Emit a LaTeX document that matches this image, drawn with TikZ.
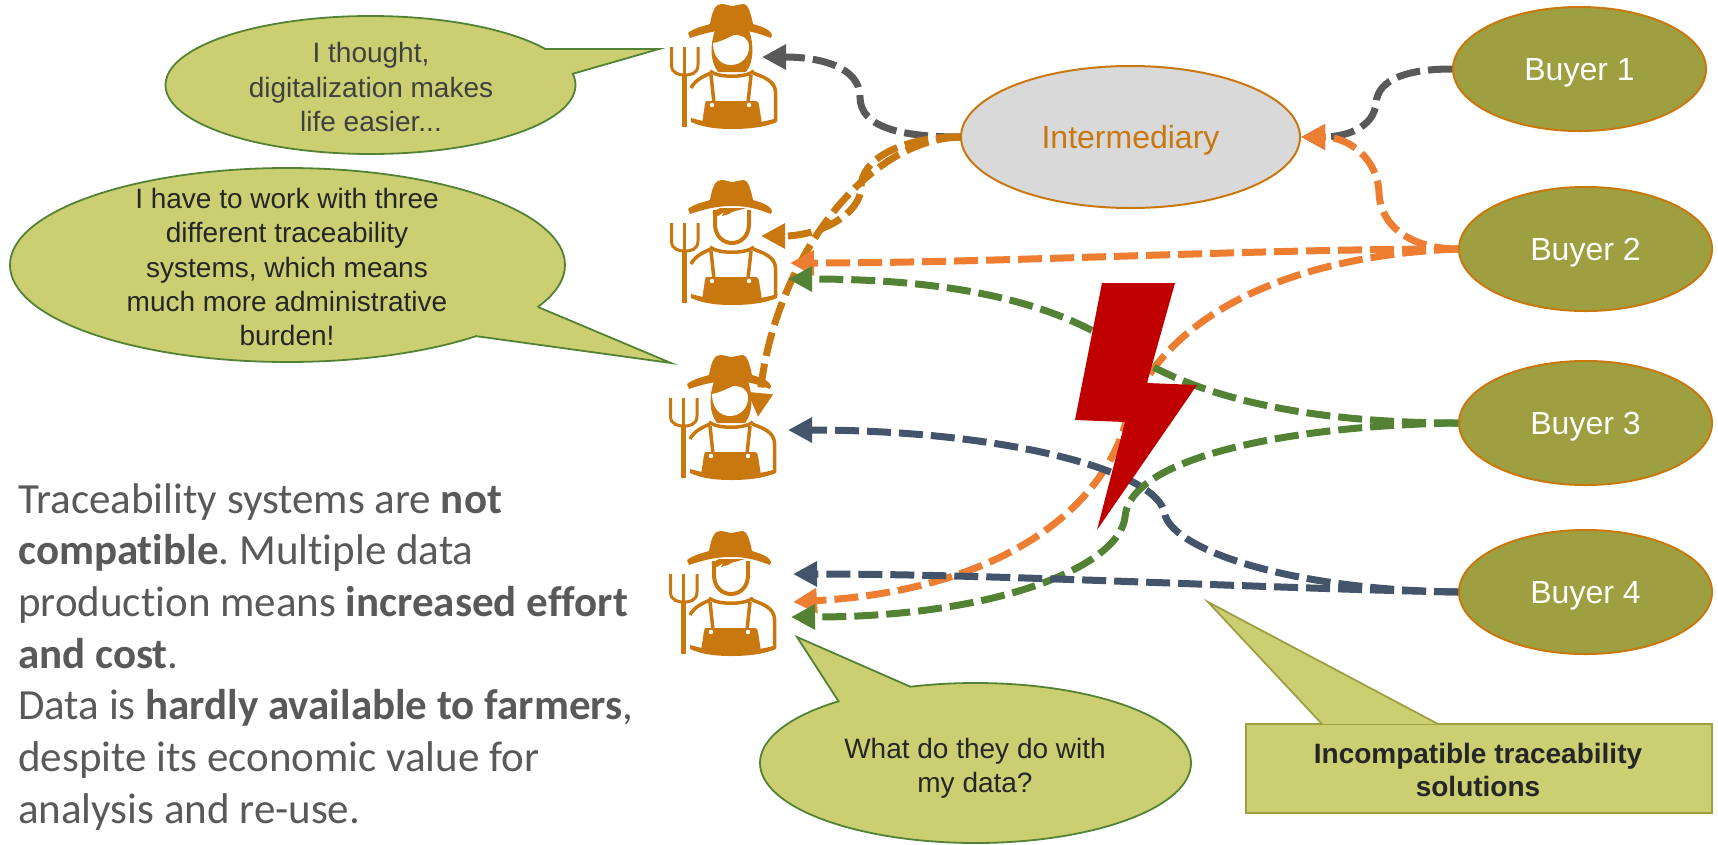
\documentclass[tikz,border=0pt]{standalone}
\usepackage{fontspec}
\setmainfont{Liberation Sans}
\newfontfamily\leftfont[Ligatures=NoCommon]{Carlito}
\usetikzlibrary{arrows.meta,shapes.geometric}
\definecolor{brownc}{HTML}{C8780F}
\definecolor{bubblefill}{HTML}{CBCF72}
\definecolor{bubbleline}{HTML}{548235}
\definecolor{buyerfill}{HTML}{9E9F40}
\definecolor{orangec}{HTML}{ED7D31}
\definecolor{greenc}{HTML}{548235}
\definecolor{navyc}{HTML}{44546A}
\definecolor{greyc}{HTML}{595959}
\definecolor{boltc}{HTML}{C00000}
\definecolor{bodytext}{HTML}{595959}
\definecolor{bubtext}{HTML}{404040}
\newcommand{\farmerbody}{%
  \fill[brownc] (28,33) .. controls (34,28) and (44,26) .. (50,24) .. controls (52,12) and (55,4) .. (61,4) .. controls (66,4) and (70,6) .. (72,6) .. controls (75,6) and (80,4) .. (84,4) .. controls (88,4) and (91,14) .. (93,24) .. controls (100,26) and (110,29) .. (112,35) -- (111,38) .. controls (100,34) and (90,30) .. (72,30) .. controls (55,30) and (42,34) .. (30,38) -- cycle;
  \draw[brownc,line width=3.5pt,line cap=butt] (50,71) .. controls (58,78) and (86,78) .. (94,71);
  \draw[brownc,line width=3.5pt] (31,88) .. controls (35,80) and (44,76) .. (51,73);
  \draw[brownc,line width=3.5pt] (93,73) .. controls (104,77) and (115,81) .. (115.5,92) -- (115.5,120);
  \draw[brownc,line width=3.5pt] (51,75) -- (54,103);
  \draw[brownc,line width=3.5pt] (91,75) -- (88,103);
  \fill[brownc] (46,101) -- (96,101) .. controls (98,101) and (99,103) .. (99,105) -- (102,124) -- (42,124) -- (45,104) -- cycle;
  \fill[white] (52,105) circle (2.2);
  \fill[white] (89,105) circle (2.2);
  \fill[brownc] (31,118) .. controls (45,122) and (60,124) .. (72,124) .. controls (90,124) and (105,122) .. (117,118) -- (117,122) .. controls (105,127) and (90,129) .. (72,129) .. controls (55,129) and (42,127) .. (31,122) -- cycle;
  \fill[brownc] (22,75) rectangle (27,127);
  \draw[brownc,line width=3pt] (11.5,47) -- (11.5,65) .. controls (11.5,74) and (20,75) .. (25,75) .. controls (30,75) and (38,74) .. (38,65) -- (38,47);
  \draw[brownc,line width=3pt] (24.5,47) -- (24.5,75);
}
\tikzset{
  farmerF/.pic={
    \fill[brownc] (55,30) .. controls (50,45) and (50,62) .. (58,72) -- (86,72) .. controls (94,62) and (94,45) .. (89,30) -- cycle;
    \fill[white] (53,43) .. controls (60,42) and (68,38) .. (74,35) .. controls (82,35) and (89,38) .. (89,47) .. controls (89,57) and (81,65) .. (71,65) .. controls (61,65) and (53,57) .. (53,43) -- cycle;
    \farmerbody
  },
  farmerM/.pic={
    \draw[brownc,line width=4pt] (55,34) -- (55,48) .. controls (55,60) and (63,67) .. (72,67) .. controls (81,67) and (89,60) .. (89,48) -- (89,34);
    \fill[brownc] (52,36) -- (60,32) -- (86,32) -- (72,36) .. controls (70,38) and (66,39) .. (62,40) -- (64,36) -- (58,40) -- cycle;
    \farmerbody
  },
  bubble/.style={ellipse,draw=bubbleline,fill=bubblefill,line width=1.8pt,inner sep=0pt},
  buyer/.style={ellipse,draw=brownc,fill=buyerfill,line width=2pt,inner sep=0pt,minimum width=253pt,minimum height=124pt,text=white,text height=23pt,text depth=0pt,font=\fontsize{32}{38}\selectfont},
  btext/.style={align=center,text=bubtext,font=\fontsize{28}{34.3}\selectfont,inner sep=0pt},
  conn/.style={dashed,dash pattern=on 24pt off 8pt,line width=7pt,-{Triangle[length=24pt,width=24pt]}},
}
\begin{document}
\begin{tikzpicture}[x=1pt,y=-1pt]
\useasboundingbox (0,0) rectangle (1718,844);
% farmers
\pic at (660,0) {farmerF};
\pic at (660,176) {farmerM};
\pic at (659,351) {farmerF};
\pic at (659,527) {farmerM};
\coordinate (t1) at (762,57);
\coordinate (t2a) at (761,236);
\coordinate (t2b) at (790,263);
\coordinate (t2c) at (788,279);
\coordinate (t3a) at (758,417);
\coordinate (t3b) at (788,430);
\coordinate (t4a) at (793,574);
\coordinate (t4b) at (793,602);
\coordinate (t4c) at (791,617);
% ellipses
\node[ellipse,draw=brownc,fill=black!15,line width=2pt,inner sep=0pt,minimum width=339pt,minimum height=142pt,text=brownc,text height=23pt,text depth=0pt,font=\fontsize{32}{38}\selectfont] (im) at (1130.5,137) {Intermediary};
\node[buyer] (b1) at (1579.5,69) {Buyer 1};
\node[buyer] (b2) at (1585.5,249) {Buyer 2};
\node[buyer] (b3) at (1585.5,423) {Buyer 3};
\node[buyer] (b4) at (1585.5,592) {Buyer 4};
% connectors
\draw[conn,draw=greyc] (im.west) .. controls (900,137) and (860,127) .. (860,97) .. controls (860,67) and (820,57) .. (t1);
\draw[conn,draw=brownc] (im.west) .. controls (900,137) and (861,160) .. (861,187) .. controls (861,214) and (820,236) .. (t2a);
\draw[conn,draw=brownc] (im.west) .. controls (860,140) and (772,270) .. (t3a);
\draw[conn,draw=greyc] (b1.west) .. controls (1410,69) and (1378,78) .. (1376,103) .. controls (1374,128) and (1345,137) .. (im.east);
\draw[conn,draw=orangec] (b2.west) .. controls (1410,249) and (1380,225) .. (1379,193) .. controls (1378,160) and (1350,137) .. (im.east);
\draw[conn,draw=orangec] (b2.west) .. controls (1250,249) and (1000,263) .. (t2b);
\draw[conn,draw=orangec] (b2.west) .. controls (1300,255) and (1160,310) .. (1125,425) .. controls (1100,510) and (1000,590) .. (t4b);
\draw[conn,draw=greenc] (b3.west) .. controls (1300,423) and (1190,395) .. (1125,350) .. controls (1080,320) and (1000,279) .. (t2c);
\draw[conn,draw=greenc] (b3.west) .. controls (1300,425) and (1130,455) .. (1125,517) .. controls (1120,565) and (1000,617) .. (t4c);
\draw[conn,draw=navyc] (b4.west) .. controls (1290,590) and (1175,550) .. (1165,515) .. controls (1160,470) and (1000,430) .. (t3b);
\draw[conn,draw=navyc] (b4.west) .. controls (1250,588) and (1000,574) .. (t4a);
% bolt
\fill[boltc] (1102,283) -- (1175,283) -- (1147,383) -- (1197,385) -- (1097,530) -- (1125,422) -- (1075,420) -- cycle;
% bubble 1
\node[bubble,minimum width=410pt,minimum height=138pt] (s1) at (370.5,85) {};
\coordinate (s1tip) at (659,49);
\coordinate (s1a) at (544,49);
\coordinate (s1b) at (572,74);
\fill[bubblefill] (s1a) -- (s1tip) -- (s1b) -- (s1.center) -- cycle;
\draw[bubbleline,line width=1.8pt] (s1a) -- (s1tip) -- (s1b);
\node[btext] (s1t) at (371,87) {I thought,\\digitalization makes\\life easier...};
% bubble 2
\node[bubble,minimum width=555pt,minimum height=194pt] (s2) at (287.5,265) {};
\coordinate (s2tip) at (671,363);
\coordinate (s2a) at (538,307);
\coordinate (s2b) at (475,336);
\fill[bubblefill] (s2a) -- (s2tip) -- (s2b) -- (s2.center) -- cycle;
\draw[bubbleline,line width=1.8pt] (s2a) -- (s2tip) -- (s2b);
\node[btext,text=black!85] (s2t) at (287,267) {I have to work with three\\different traceability\\systems, which means\\much more administrative\\burden!};
% bubble 3
\node[bubble,minimum width=431pt,minimum height=160pt] (s3) at (975.5,763) {};
\coordinate (s3tip) at (797,637);
\coordinate (s3a) at (839,702);
\coordinate (s3b) at (911,687);
\fill[bubblefill] (s3a) -- (s3tip) -- (s3b) -- (s3.center) -- cycle;
\draw[bubbleline,line width=1.8pt] (s3a) -- (s3tip) -- (s3b);
\node[btext,text=black!85] (s3t) at (975,768) {What do they do with\\my data?};
% callout
\node[draw=buyerfill,fill=bubblefill,line width=1.8pt,minimum width=466pt,minimum height=89pt,inner sep=0pt] (c1) at (1479,768.5) {};
\coordinate (c1tip) at (1208,602);
\coordinate (c1a) at (1322,724);
\coordinate (c1b) at (1438,724);
\fill[bubblefill] (c1a) -- (c1tip) -- (c1b) -- cycle;
\draw[buyerfill,line width=1.8pt] (c1a) -- (c1tip) -- (c1b);
\node[btext,text=black!85,font=\fontsize{28}{33.7}\selectfont\bfseries] (c1t) at (1478,770) {Incompatible traceability\\solutions};
% left text
\node[anchor=north west,align=left,text=bodytext,inner sep=0pt,font=\leftfont\frenchspacing\fontsize{43}{51.7}\selectfont] (para) at (18,483) {Traceability systems are \textbf{not}\\\textbf{compatible}. Multiple data\\production means \textbf{increased effort}\\\textbf{and cost}.\\Data is \textbf{hardly available to farmers},\\despite its economic value for\\analysis and re-use.};
\end{tikzpicture}
\end{document}
